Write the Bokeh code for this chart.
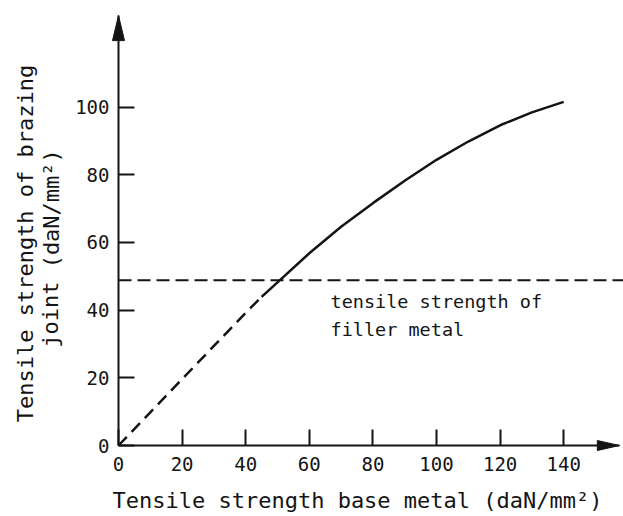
from bokeh.plotting import figure
from bokeh.models import Range1d, FixedTicker, Label, LinearAxis
from bokeh.embed import file_html
from bokeh.resources import INLINE

# ---- data ----
base_dashed = [0, 10, 20, 30, 40, 45]
joint_dashed = [0, 9.8, 19.6, 29.4, 39.2, 43.9]
base_solid = [45, 50, 60, 70, 80, 90, 100, 110, 120, 130, 140]
joint_solid = [43.9, 48.2, 56.8, 64.6, 71.6, 78.2, 84.4, 89.8, 94.6, 98.4, 101.5]
filler_strength = 48.8
x_ticks = [0, 20, 40, 60, 80, 100, 120, 140]
y_ticks = [0, 20, 40, 60, 80, 100]
x_title = "Tensile strength base metal (daN/mm²)"
y_title_1 = "Tensile strength of brazing"
y_title_2 = "joint (daN/mm²)"
note_1 = "tensile strength of"
note_2 = "filler metal"

# ---- layout ----
W, H = 623, 516
SX, SY = 3.18, 3.385          # pixels per data unit
ORX, ORY = 118, 445           # pixel of the origin
x0 = -ORX / SX
x1 = x0 + W / SX
y0 = -(H - ORY) / SY
y1 = y0 + H / SY
x_tip = 157.5
y_tip = 127.0

INK = "#141414"
FONT = "DejaVu Sans Mono"

p = figure(width=W, height=H, x_range=Range1d(x0, x1), y_range=Range1d(y0, y1),
           output_backend="svg", toolbar_location=None,
           x_axis_location=None, y_axis_location=None,
           min_border_left=0, min_border_right=0, min_border_top=0, min_border_bottom=0)
p.outline_line_color = None
p.grid.visible = False
p.background_fill_color = "white"
p.border_fill_color = "white"

def style_axis(ax):
    ax.axis_line_color = INK
    ax.axis_line_width = 2
    ax.major_tick_line_color = INK
    ax.major_tick_line_width = 2
    ax.major_tick_in = 16
    ax.major_tick_out = 0
    ax.minor_tick_line_color = None
    ax.major_label_text_font = FONT
    ax.major_label_text_font_size = "19px"
    ax.major_label_text_color = INK

xaxis = LinearAxis(fixed_location=0, bounds=(0, x_tip), ticker=FixedTicker(ticks=x_ticks))
style_axis(xaxis)
xaxis.major_label_standoff = 11
p.add_layout(xaxis, "below")

yaxis = LinearAxis(fixed_location=0, bounds=(0, y_tip), ticker=FixedTicker(ticks=y_ticks))
style_axis(yaxis)
yaxis.major_label_standoff = 9
p.add_layout(yaxis, "left")

# arrow heads (decoration at axis ends)
hx_len, hx_half = 22 / SX, 5 / SY
p.patch([x_tip, x_tip - hx_len, x_tip - hx_len], [0, hx_half, -hx_half], color=INK)
hy_len, hy_half = 25 / SY, 6 / SX
p.patch([0, -hy_half, hy_half], [y_tip, y_tip - hy_len, y_tip - hy_len], color=INK)

# filler metal strength
p.line([0, x1], [filler_strength, filler_strength], line_color=INK, line_width=2,
       line_dash="13 6")

# joint strength curve
p.line(base_dashed, joint_dashed, line_color=INK, line_width=2.5, line_dash="12 7")
p.line(base_solid, joint_solid, line_color=INK, line_width=2.5)

def label(px, py, text, **kw):
    p.add_layout(Label(x=(px - ORX) / SX, y=(ORY - py) / SY, text=text,
                       text_font=FONT, text_color=INK, text_baseline="middle", **kw))

label(357, 500, x_title, text_font_size="22px", text_align="center")
label(25, 243, y_title_1, text_font_size="22px", text_align="center", angle=1.5707963)
label(50.5, 248, y_title_2, text_font_size="22px", text_align="center", angle=1.5707963)
label(330, 300.8, note_1, text_font_size="18.5px", text_align="left")
label(330, 328.8, note_2, text_font_size="18.5px", text_align="left")

open("out.html", "w").write(file_html(p, INLINE))
